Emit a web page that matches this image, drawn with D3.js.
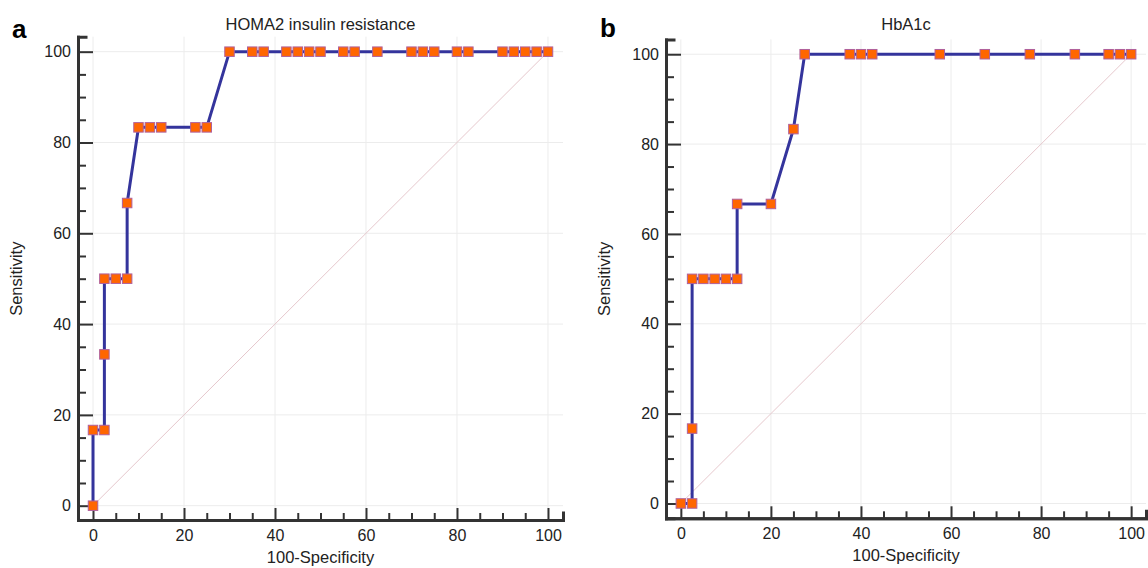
<!DOCTYPE html>
<html>
<head>
<meta charset="utf-8">
<script src="https://cdn.jsdelivr.net/npm/d3@7"></script>
<style>
  body { margin: 0; background: #fff; }
  text { font-family: "Liberation Sans", Arial, sans-serif; fill: #222; }
</style>
</head>
<body>
<svg id="chart" width="1148" height="568"></svg>
<script>
// ROC points (100-Specificity, Sensitivity)
var homaX = [0, 0, 2.5, 2.5, 2.5, 5, 7.5, 7.5, 10, 12.5, 15, 22.5, 25, 30, 35, 37.5, 42.5, 45, 47.5, 50, 55, 57.5, 62.5, 70, 72.5, 75, 80, 82.5, 90, 92.5, 95, 97.5, 100];
var homaY = [0, 16.67, 16.67, 33.33, 50, 50, 50, 66.67, 83.33, 83.33, 83.33, 83.33, 83.33, 100, 100, 100, 100, 100, 100, 100, 100, 100, 100, 100, 100, 100, 100, 100, 100, 100, 100, 100, 100];

var hbaX = [0, 2.5, 2.5, 2.5, 5, 7.5, 10, 12.5, 12.5, 20, 25, 27.5, 37.5, 40, 42.5, 57.5, 67.5, 77.5, 87.5, 95, 97.5, 100];
var hbaY = [0, 0, 16.67, 50, 50, 50, 50, 50, 66.67, 66.67, 83.33, 100, 100, 100, 100, 100, 100, 100, 100, 100, 100, 100];

var majorTicks = [0, 20, 40, 60, 80, 100];
var minorTicks = [5, 10, 15, 25, 30, 35, 45, 50, 55, 65, 70, 75, 85, 90, 95];

var svg = d3.select("#chart");

drawPanel({
  letter: "a", letterX: 12, letterY: 38,
  title: "HOMA2 insulin resistance",
  xs: homaX, ys: homaY,
  left: 78, right: 563, bottom: 520, top: 36.7,
  yLow: -3.15,
  ylabX: 22, xlabY: 563
});

drawPanel({
  letter: "b", letterX: 600, letterY: 37,
  title: "HbA1c",
  xs: hbaX, ys: hbaY,
  left: 666, right: 1146, bottom: 518.3, top: 39.4,
  yLow: -3.3,
  ylabX: 610, xlabY: 561
});

function drawPanel(p) {
  var x = d3.scaleLinear().domain([-3.3, 103.3]).range([p.left, p.right]);
  var y = d3.scaleLinear().domain([p.yLow, 103.3]).range([p.bottom, p.top]);
  var g = svg.append("g");

  // grid
  g.append("g").selectAll("line")
      .data(majorTicks)
    .enter().append("line")
      .attr("x1", p.left).attr("x2", p.right)
      .attr("y1", function(d) { return y(d); })
      .attr("y2", function(d) { return y(d); })
      .attr("stroke", "#ececec").attr("stroke-width", 1);
  g.append("g").selectAll("line")
      .data(majorTicks)
    .enter().append("line")
      .attr("y1", p.top).attr("y2", p.bottom)
      .attr("x1", function(d) { return x(d); })
      .attr("x2", function(d) { return x(d); })
      .attr("stroke", "#ececec").attr("stroke-width", 1);

  // reference diagonal
  g.append("line")
      .attr("x1", x(0)).attr("y1", y(0))
      .attr("x2", x(100)).attr("y2", y(100))
      .attr("stroke", "#e6c8cd").attr("stroke-width", 1);

  // minor ticks
  g.append("g")
      .attr("transform", "translate(" + p.left + ",0)")
      .call(d3.axisLeft(y).tickValues(minorTicks).tickSize(-8).tickFormat(""))
      .call(styleAxis);
  g.append("g")
      .attr("transform", "translate(0," + p.bottom + ")")
      .call(d3.axisBottom(x).tickValues(minorTicks).tickSize(-7).tickFormat(""))
      .call(styleAxis);

  // major axes
  g.append("g")
      .attr("transform", "translate(" + p.left + ",0)")
      .call(d3.axisLeft(y).tickValues(majorTicks).tickSize(-15).tickSizeOuter(0).tickPadding(7))
      .call(styleAxis);
  g.append("g")
      .attr("transform", "translate(0," + p.bottom + ")")
      .call(d3.axisBottom(x).tickValues(majorTicks).tickSize(-12).tickSizeOuter(0).tickPadding(9.6))
      .call(styleAxis);

  // ROC curve
  var pts = p.xs.map(function(d, i) { return [d, p.ys[i]]; });
  var line = d3.line()
      .x(function(d) { return x(d[0]); })
      .y(function(d) { return y(d[1]); });
  g.append("path")
      .datum(pts)
      .attr("d", line)
      .attr("fill", "none")
      .attr("stroke", "#34349c")
      .attr("stroke-width", 3);

  g.append("g").selectAll("rect")
      .data(pts)
    .enter().append("rect")
      .attr("x", function(d) { return x(d[0]) - 4.75; })
      .attr("y", function(d) { return y(d[1]) - 4.75; })
      .attr("width", 9.5).attr("height", 9.5)
      .attr("fill", "#ff6600")
      .attr("stroke", "#b0609c")
      .attr("stroke-width", 1);

  // labels
  g.append("text")
      .attr("x", x(50)).attr("y", 30)
      .attr("text-anchor", "middle")
      .style("font-size", "16.5px")
      .text(p.title);
  g.append("text")
      .attr("x", x(50)).attr("y", p.xlabY)
      .attr("text-anchor", "middle")
      .style("font-size", "16.5px")
      .text("100-Specificity");
  g.append("text")
      .attr("transform", "translate(" + p.ylabX + "," + y(50) + ") rotate(-90)")
      .attr("text-anchor", "middle")
      .style("font-size", "16.5px")
      .text("Sensitivity");
  g.append("text")
      .attr("x", p.letterX).attr("y", p.letterY)
      .style("font-size", "26px")
      .style("font-weight", "bold")
      .style("fill", "#000")
      .text(p.letter);
}

function styleAxis(sel) {
  sel.select(".domain")
      .attr("stroke", "#333")
      .attr("stroke-width", 3)
      .attr("stroke-linecap", "square");
  sel.selectAll(".tick line")
      .attr("stroke", "#333")
      .attr("stroke-width", 2);
  sel.selectAll(".tick text")
      .style("font-size", "16px")
      .style("fill", "#222");
}
</script>
</body>
</html>
